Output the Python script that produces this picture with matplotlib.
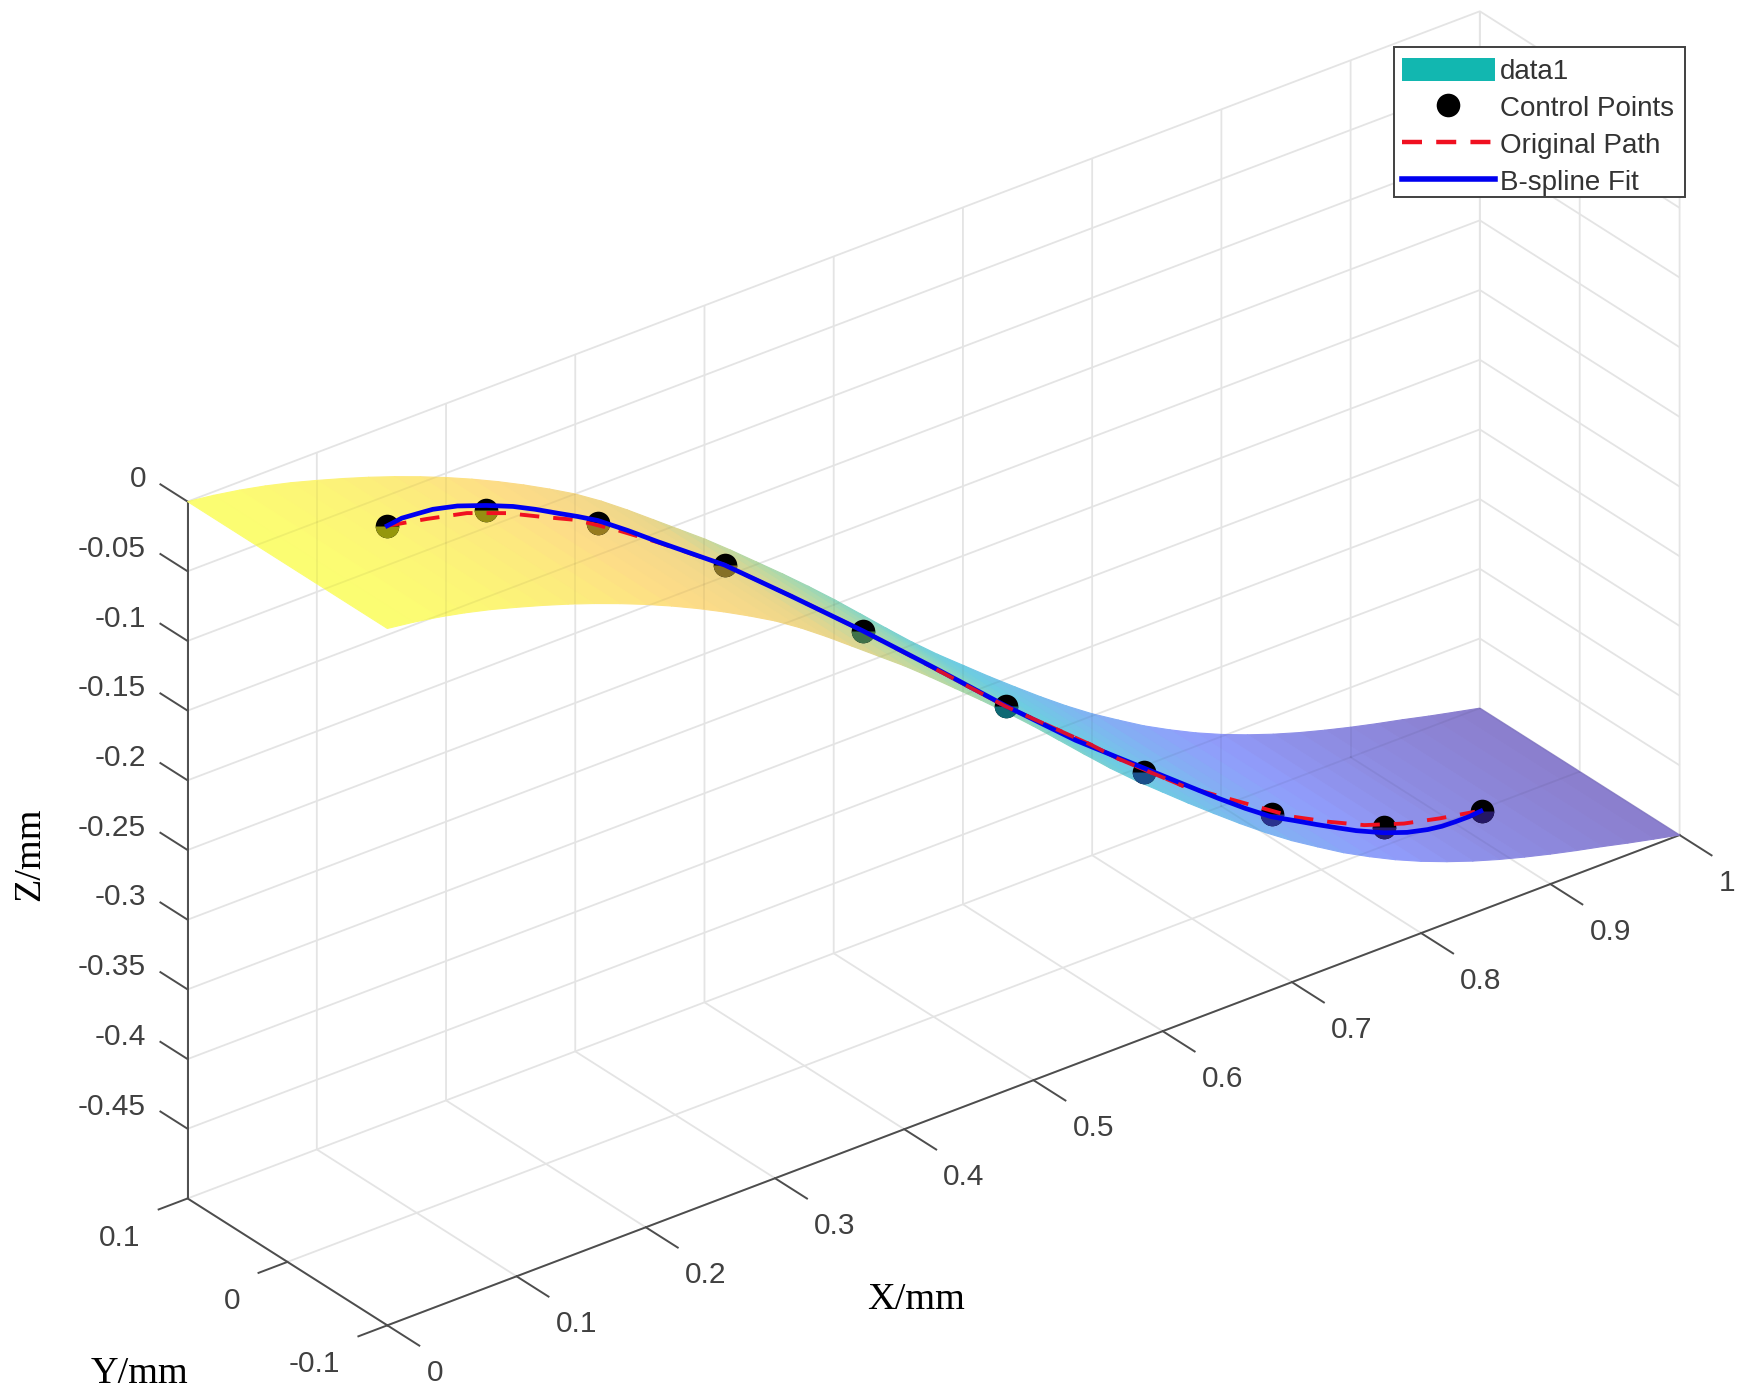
import numpy as np
import matplotlib
matplotlib.use('Agg')
import matplotlib.pyplot as plt
from matplotlib.colors import LinearSegmentedColormap
from matplotlib.lines import Line2D
from matplotlib.patches import Patch, Rectangle
from matplotlib.path import Path
from mpl_toolkits.mplot3d import proj3d

# Surface profile (z only changes along x)
surf_x = [0.00, 0.02, 0.04, 0.06, 0.08, 0.10, 0.12, 0.14, 0.16, 0.18, 0.20, 0.22, 0.24,
          0.26, 0.28, 0.30, 0.32, 0.34, 0.36, 0.38, 0.40, 0.42, 0.44, 0.46, 0.48, 0.50,
          0.52, 0.54, 0.56, 0.58, 0.60, 0.62, 0.64, 0.66, 0.68, 0.70, 0.72, 0.74, 0.76,
          0.78, 0.80, 0.82, 0.84, 0.86, 0.88, 0.90, 0.92, 0.94, 0.96, 0.98, 1.00]
surf_z = [0.0, -0.0026, -0.0059, -0.0099, -0.0146, -0.02, -0.0257, -0.0318, -0.0384,
          -0.0455, -0.0531, -0.0613, -0.0701, -0.0795, -0.0895, -0.1001, -0.1122, -0.1255,
          -0.1395, -0.1535, -0.1675, -0.1825, -0.198, -0.2135, -0.2295, -0.246, -0.2632,
          -0.2805, -0.2975, -0.3135, -0.3285, -0.3435, -0.358, -0.3722, -0.3858, -0.3985,
          -0.41, -0.4212, -0.4311, -0.4403, -0.4485, -0.4558, -0.4624, -0.4683, -0.4736,
          -0.4785, -0.483, -0.4872, -0.4917, -0.4959, -0.5]
surf_y = [-0.1, 0.1]

ctrl_x = [0.0771, 0.1539, 0.2402, 0.3386, 0.4456, 0.5559, 0.663, 0.7615, 0.8486, 0.924]
ctrl_z = [0.001, -0.015, -0.0545, -0.119, -0.2041, -0.2967, -0.3814, -0.4464, -0.4864, -0.5017]

fit_x = [0.0772, 0.0884, 0.1003, 0.1125, 0.1315, 0.1539, 0.1746, 0.1918, 0.2091, 0.2246,
         0.2401, 0.2634, 0.2866, 0.3384, 0.3901, 0.4453, 0.5022, 0.5556, 0.6099, 0.663,
         0.7201, 0.741, 0.7615, 0.7791, 0.7967, 0.8125, 0.8272, 0.8487, 0.8664, 0.8823,
         0.8935, 0.9036, 0.9142, 0.9235]
fit_z = [0.001, 0.0025, 0.0015, 0.0004, -0.0039, -0.0114, -0.0194, -0.0275, -0.0364, -0.0442,
         -0.0525, -0.0679, -0.0841, -0.1191, -0.1597, -0.2039, -0.2512, -0.2964, -0.3403, -0.379,
         -0.4206, -0.4352, -0.4485, -0.4574, -0.4665, -0.4744, -0.4816, -0.4907, -0.4966, -0.5002,
         -0.5017, -0.5021, -0.5022, -0.5014]

orig_x = [0.0772, 0.1079, 0.1389, 0.1698, 0.1969, 0.224, 0.2547, 0.2866, 0.3384, 0.3901,
          0.4453, 0.5022, 0.5556, 0.6223, 0.6422, 0.6933, 0.7783, 0.8056, 0.8334, 0.8639,
          0.8914, 0.919]
orig_z = [0.001, -0.0049, -0.0116, -0.0225, -0.0347, -0.0465, -0.0644, -0.0845, -0.1191, -0.1597,
          -0.2039, -0.2516, -0.2968, -0.3481, -0.3646, -0.4025, -0.4544, -0.4676, -0.4798, -0.4894,
          -0.4954, -0.5003]

x_ticks = [0, 0.1, 0.2, 0.3, 0.4, 0.5, 0.6, 0.7, 0.8, 0.9, 1]
x_labels = ['0', '0.1', '0.2', '0.3', '0.4', '0.5', '0.6', '0.7', '0.8', '0.9', '1']
y_ticks = [-0.1, 0, 0.1]
y_labels = ['-0.1', '0', '0.1']
z_ticks = [-0.45, -0.4, -0.35, -0.3, -0.25, -0.2, -0.15, -0.1, -0.05, 0]
z_labels = ['-0.45', '-0.4', '-0.35', '-0.3', '-0.25', '-0.2', '-0.15', '-0.1', '-0.05', '0']

plt.rcParams['font.family'] = ['Liberation Sans', 'DejaVu Sans']
plt.rcParams['axes.edgecolor'] = '#4d4d4d'
plt.rcParams['axes.linewidth'] = 1.4
plt.rcParams['grid.color'] = '#e4e4e4'
plt.rcParams['grid.linewidth'] = 1.3
plt.rcParams['xtick.color'] = '#4d4d4d'
plt.rcParams['ytick.color'] = '#4d4d4d'
plt.rcParams['xtick.major.width'] = 1.4
plt.rcParams['ytick.major.width'] = 1.4

# reversed parula
parula_r = LinearSegmentedColormap.from_list('parula_r', [
    (0.2422, 0.1504, 0.6603), (0.278, 0.3556, 0.9777), (0.15, 0.54, 0.90),
    (0.05, 0.67, 0.80), (0.2, 0.72, 0.63), (0.5, 0.75, 0.42),
    (0.85, 0.73, 0.25), (0.99, 0.77, 0.22), (0.977, 0.984, 0.08)])
sheet_alpha = 0.6

W, H = 1748, 1399
fig = plt.figure(figsize=(W / 100, H / 100), dpi=100)
side = 1793.7
ax = fig.add_axes([12.5 / W, -190.4 / H, side / W, side / H], projection='3d',
                  proj_type='ortho', computed_zorder=False)
ax.patch.set_visible(False)
ax.view_init(elev=29.4, azim=-127.7)
ax.set_box_aspect((1465, 293, 717.5))
ax.set_xlim(0, 1, view_margin=0)
ax.set_ylim(-0.1, 0.1, view_margin=0)
ax.set_zlim(-0.5, 0, view_margin=0)


def to2d(x, y, z):
    px, py, _ = proj3d.proj_transform(x, y, z, ax.get_proj())
    return px, py


X, Y = np.meshgrid(surf_x, surf_y)
Z = np.tile(surf_z, (len(surf_y), 1))
# sheet colours blended on white by hand: real alpha leaves seams between the facets
sheet_rgba = parula_r((Z + 0.5) / 0.5)
sheet_rgba[..., :3] = sheet_rgba[..., :3] * sheet_alpha + (1 - sheet_alpha)
ax.plot_surface(X, Y, Z, facecolors=sheet_rgba, shade=False, linewidth=0.8, antialiased=True,
                rstride=1, cstride=1, zorder=1)

# the grid shows faintly through the sheet
outline = [to2d(a, surf_y[0], b) for a, b in zip(surf_x, surf_z)]
outline += [to2d(a, surf_y[1], b) for a, b in zip(surf_x[::-1], surf_z[::-1])]
sheet_path = Path(outline + [outline[0]])
through = []
for xt in x_ticks:
    through.append(([xt, xt], [0.1, 0.1], [-0.5, 0]))
    through.append(([xt, xt], [-0.1, 0.1], [-0.5, -0.5]))
for yt in y_ticks:
    through.append(([0, 1], [yt, yt], [-0.5, -0.5]))
    through.append(([1, 1], [yt, yt], [-0.5, 0]))
for zt in z_ticks:
    through.append(([0, 1], [0.1, 0.1], [zt, zt]))
    through.append(([1, 1], [-0.1, 0.1], [zt, zt]))
for gx, gy, gz in through:
    line, = ax.plot(gx, gy, gz, color='black', alpha=0.05, lw=1.3, zorder=1.5)
    line.set_clip_path(sheet_path, ax.transData)

# markers are half buried in the sheet, so the lower half shows the sheet colour on black
ctrl_y = np.zeros(len(ctrl_x))
ax.plot(ctrl_x, ctrl_y, ctrl_z, 'o', color='black', ms=17, mew=0, zorder=2)
for cx, cz in zip(ctrl_x, ctrl_z):
    tint = np.array(parula_r((cz + 0.5) / 0.5)[:3]) * sheet_alpha
    ax.plot([cx], [0], [cz], 'o', ms=17, mew=0, fillstyle='bottom', markerfacecolor=tint,
            markerfacecoloralt='none', zorder=3)

ax.plot(orig_x, np.zeros(len(orig_x)), orig_z, color='#f01020', lw=2.8, dashes=(5, 3.6), zorder=4)
ax.plot(fit_x, np.zeros(len(fit_x)), fit_z, color='#0000f0', lw=3.4, zorder=5)
# the red dashes come out on top of the blue line on this stretch
top_x = [p for p in orig_x if 0.5 < p < 0.7]
top_z = [q for p, q in zip(orig_x, orig_z) if 0.5 < p < 0.7]
ax.plot(top_x, np.zeros(len(top_x)), top_z, color='#d81030', lw=2.8, dashes=(5, 3.6), zorder=6)

ax.set_xticks(x_ticks)
ax.set_yticks(y_ticks)
ax.set_zticks(z_ticks)
ax.tick_params(axis='z', colors='#4d4d4d')

for axis, tick_in, tick_out in zip((ax.xaxis, ax.yaxis, ax.zaxis), (2.0, 0.28, 0), (0, 0, 1.7)):
    axis.set_pane_color((1, 1, 1, 0))
    axis.pane.set_edgecolor('none')
    axis._axinfo['tick']['inward_factor'] = tick_in
    axis._axinfo['tick']['outward_factor'] = tick_out
    axis.set_major_formatter(plt.NullFormatter())
    for t in axis.get_major_ticks():
        t.label1.set_visible(False)
        t.label2.set_visible(False)
    axis.offsetText.set_visible(False)
    axis.label.set_visible(False)
# z ticks run along y in the original view
ax.zaxis._get_tickdir = lambda position: 1


def tick_text(x, y, z, lab, ha):
    px, py = to2d(x, y, z)
    ax.text2D(px, py, lab, transform=ax.transData, fontsize=21.5, color='#404040', va='center', ha=ha)


for xt, lab in zip(x_ticks, x_labels):
    tick_text(xt, -0.1391, -0.5166, lab, 'left')
for yt, lab in zip(y_ticks, y_labels):
    tick_text(-0.0362, yt, -0.5153, lab, 'right')
for zt, lab in zip(z_ticks, z_labels):
    tick_text(0, 0.1417, zt - 0.003, lab, 'right')

fig.text(822 / 1568, 1 - 1166 / 1255, 'X/mm', family='Liberation Serif', fontsize=27.5,
         ha='center', va='center', color='black')
fig.text(125 / 1568, 1 - 1232 / 1255, 'Y/mm', family='Liberation Serif', fontsize=27.5,
         ha='center', va='center', color='black')
fig.text(27 / 1568, 1 - 766 / 1255, 'Z/mm', family='Liberation Serif', fontsize=27.5,
         rotation=90, ha='center', va='center', color='black')

# legend box drawn on its own so the rows can sit where they do in the original
fig.add_artist(Rectangle((1393.5 / W, 1 - 197.3 / H), 291 / W, 150.5 / H, transform=fig.transFigure,
                         facecolor='white', edgecolor='#404040', linewidth=1.4, zorder=4))
handles = [Patch(facecolor='#12b7b0', edgecolor='none'),
           Line2D([], [], marker='o', color='black', ls='none', ms=17, mew=0),
           Line2D([], [], color='#f01020', lw=3.2, dashes=(4.5, 3.2)),
           Line2D([], [], color='#0000f0', lw=4)]
labels = ['data1', 'Control Points', 'Original Path', 'B-spline Fit']
leg = fig.legend(handles, labels, loc='upper left', bbox_to_anchor=(1394 / W, 1 - 50.3 / H),
                 fontsize=20, frameon=False, handlelength=3.35, handleheight=0.92,
                 handletextpad=0.2, labelspacing=0.35, borderpad=0.27, borderaxespad=0,
                 labelcolor='#333333')
leg.set_zorder(5)

fig.savefig('out.png', dpi=100)
